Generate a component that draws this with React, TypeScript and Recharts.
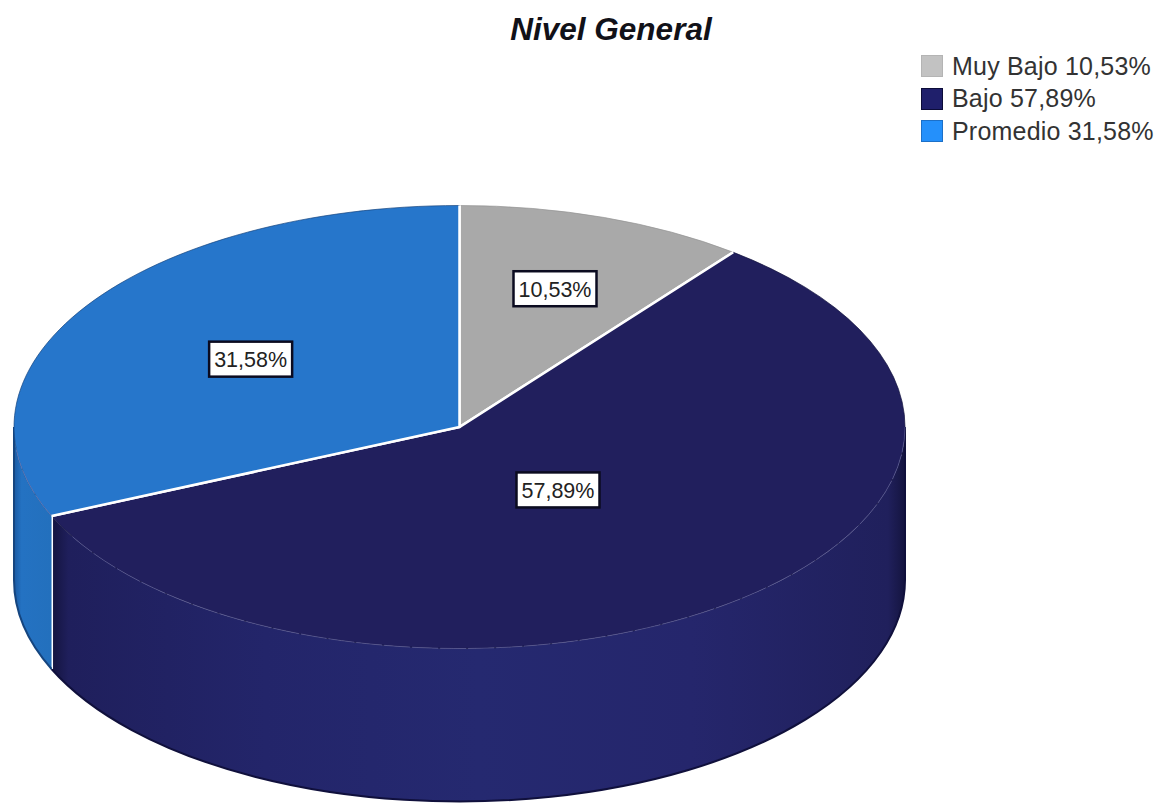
import { Legend, Pie, PieChart } from "recharts";

const CATEGORIES = ["Muy Bajo", "Bajo", "Promedio"];
const VALUES = [10.53, 57.89, 31.58];
const TITLE = "Nivel General";

const FACE_COLORS = ["#a9a9a9", "#211f5d", "#2676cb"];
const WALL_FILLS = ["#8f8f8f", "url(#wallNavy)", "url(#wallBlue)"];
const RIM_COLORS = ["#939393", "#10103c", "#15457f"];
const LEGEND_COLORS = ["#c2c2c2", "#1f1f6b", "#2490fb"];
const LEGEND_BORDERS = ["#b4b4b4", "#0c0c38", "#1c70c8"];
// how far along each slice's radius the value box sits
const LABEL_RADIUS = [0.66, 0.36, 0.56];

const FONT = '"Liberation Sans", Arial, sans-serif';
const TILT = 221.5 / 445.5;
const DEPTH = 153;
const RAD = Math.PI / 180;

const fmt = (v: number) => v.toFixed(2).replace(".", ",");

const rows = CATEGORIES.map((name, i) => ({
  name,
  value: VALUES[i],
  fill: FACE_COLORS[i],
  wall: WALL_FILLS[i],
  rim: RIM_COLORS[i],
}));

function ellipsePoint(cx: number, cy: number, r: number, deg: number) {
  return { x: cx + r * Math.cos(deg * RAD), y: cy - r * TILT * Math.sin(deg * RAD) };
}

function arcTo(cx: number, cy: number, r: number, from: number, to: number, dy = 0) {
  const end = ellipsePoint(cx, cy + dy, r, to);
  const large = Math.abs(from - to) > 180 ? 1 : 0;
  const sweep = to < from ? 1 : 0;
  return `A ${r} ${r * TILT} 0 ${large} ${sweep} ${end.x} ${end.y}`;
}

// Flattened slice: the top face plus whatever part of the rim faces the viewer
function TiltedSlice(props: any) {
  const { cx, cy, outerRadius: r, startAngle, endAngle, fill, wall, rim } = props;
  const a = ellipsePoint(cx, cy, r, startAngle);
  const b = ellipsePoint(cx, cy, r, endAngle);

  const face = `M ${cx} ${cy} L ${a.x} ${a.y} ${arcTo(cx, cy, r, startAngle, endAngle)} Z`;
  const spokes = `M ${a.x} ${a.y} L ${cx} ${cy} L ${b.x} ${b.y}`;

  // front half of the ellipse runs from 0 down to -180 degrees
  const wallStart = Math.min(startAngle, 0);
  const wallEnd = Math.max(endAngle, -180);
  const hasWall = wallStart > wallEnd;
  const p = ellipsePoint(cx, cy, r, wallStart);
  const q = ellipsePoint(cx, cy, r, wallEnd);

  return (
    <g>
      {hasWall && (
        <>
          <path
            d={`M ${p.x} ${p.y} ${arcTo(cx, cy, r, wallStart, wallEnd)} L ${q.x} ${q.y + DEPTH} ${arcTo(cx, cy, r, wallEnd, wallStart, DEPTH)} Z`}
            fill={wall}
          />
          <path
            d={`M ${q.x} ${q.y + DEPTH} ${arcTo(cx, cy, r, wallEnd, wallStart, DEPTH)}`}
            fill="none"
            stroke={rim}
            strokeWidth={2}
          />
          {wallStart === 0 && (
            <path d={`M ${p.x} ${p.y} L ${p.x} ${p.y + DEPTH}`} stroke={rim} strokeWidth={2} />
          )}
          {wallEnd === -180 && (
            <path d={`M ${q.x} ${q.y} L ${q.x} ${q.y + DEPTH}`} stroke={rim} strokeWidth={2} />
          )}
        </>
      )}
      <path d={face} fill={fill} />
      <path
        d={`M ${a.x} ${a.y} ${arcTo(cx, cy, r, startAngle, endAngle)}`}
        fill="none"
        stroke={rim}
        strokeWidth={1}
        strokeOpacity={0.7}
      />
      {hasWall && (
        <path
          d={`M ${p.x} ${p.y} ${arcTo(cx, cy, r, wallStart, wallEnd + 6)}`}
          fill="none"
          stroke="#8d8fd0"
          strokeOpacity={0.45}
          strokeWidth={1}
          strokeDasharray="26 2"
        />
      )}
      <path d={spokes} fill="none" stroke="#ffffff" strokeWidth={2.5} />
      {hasWall && wallEnd > -180 && (
        <path d={`M ${q.x} ${q.y} L ${q.x} ${q.y + DEPTH}`} stroke="#ffffff" strokeWidth={3} />
      )}
    </g>
  );
}

function ValueBox(props: any) {
  const { cx, cy, midAngle, outerRadius, index, value } = props;
  const pt = ellipsePoint(cx, cy, outerRadius * LABEL_RADIUS[index], midAngle);
  return (
    <g>
      <rect
        x={pt.x - 41.5}
        y={pt.y - 17.5}
        width={83}
        height={35}
        fill="#ffffff"
        stroke="#0b0b20"
        strokeWidth={2.5}
      />
      <text
        x={pt.x}
        y={pt.y + 8}
        textAnchor="middle"
        fontFamily={FONT}
        fontSize={21.5}
        fill="#222222"
      >
        {fmt(value)}%
      </text>
    </g>
  );
}

function LegendList({ payload }: any) {
  return (
    <div style={{ fontFamily: FONT, fontSize: 25, color: "#333333", letterSpacing: 0.2 }}>
      {(payload ?? []).map((entry: any, i: number) => (
        <div key={entry.value} style={{ display: "flex", alignItems: "center", height: 32.5 }}>
          <span
            style={{
              width: 20,
              height: 20,
              marginRight: 9,
              background: LEGEND_COLORS[i],
              border: `1px solid ${LEGEND_BORDERS[i]}`,
            }}
          />
          <span style={{ whiteSpace: "nowrap" }}>
            {entry.value} {fmt(VALUES[i])}%
          </span>
        </div>
      ))}
    </div>
  );
}

export default function App() {
  return (
    <div style={{ position: "absolute", left: 0, top: 0, background: "#ffffff" }}>
      <PieChart width={1164} height={803} margin={{ top: 0, right: 0, bottom: 0, left: 0 }}>
        <defs>
          <linearGradient id="wallNavy" x1="0" y1="0" x2="1" y2="0">
            <stop offset="0" stopColor="#14143f" />
            <stop offset="0.02" stopColor="#1f1f5c" />
            <stop offset="0.25" stopColor="#23256a" />
            <stop offset="0.5" stopColor="#252970" />
            <stop offset="0.75" stopColor="#25266c" />
            <stop offset="0.98" stopColor="#20205c" />
            <stop offset="1" stopColor="#14143f" />
          </linearGradient>
          <linearGradient id="wallBlue" x1="0" y1="0" x2="1" y2="0">
            <stop offset="0" stopColor="#1a5aa3" />
            <stop offset="0.2" stopColor="#2472c2" />
            <stop offset="1" stopColor="#2370bd" />
          </linearGradient>
        </defs>
        <text
          x={611}
          y={40}
          textAnchor="middle"
          fontFamily={FONT}
          fontSize={31.5}
          fontWeight="bold"
          fontStyle="italic"
          fill="#111118"
        >
          {TITLE}
        </text>
        <Legend
          layout="vertical"
          align="right"
          verticalAlign="top"
          itemSorter={null}
          content={<LegendList />}
          wrapperStyle={{ left: 921, top: 50, width: 240, right: "auto" }}
        />
        <Pie
          data={rows}
          dataKey="value"
          nameKey="name"
          cx={459.5}
          cy={427}
          outerRadius={445.5}
          startAngle={90}
          endAngle={-270}
          stroke="none"
          shape={TiltedSlice}
          label={ValueBox}
          labelLine={false}
          isAnimationActive={false}
        />
      </PieChart>
    </div>
  );
}
